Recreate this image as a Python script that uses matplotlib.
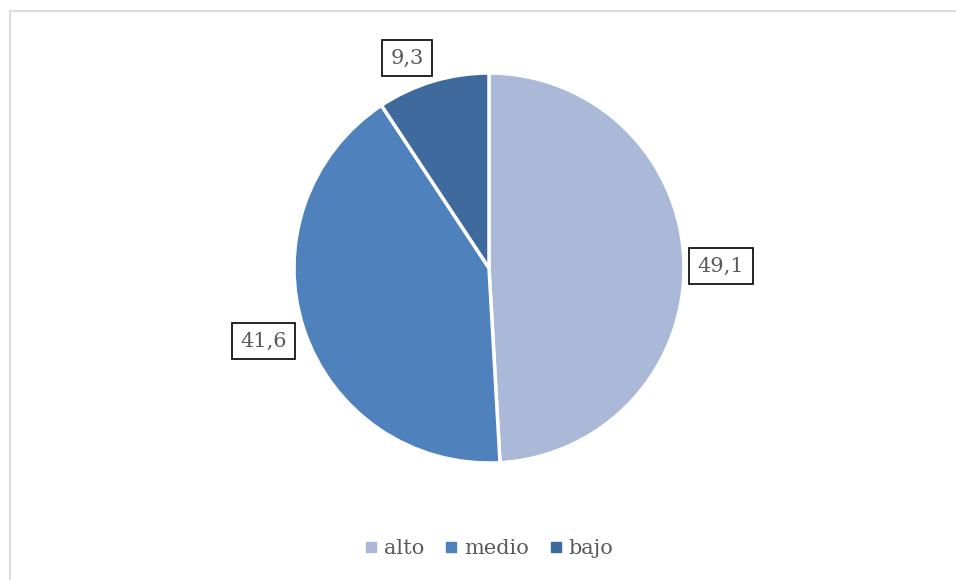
import numpy as np
import matplotlib
matplotlib.use('Agg')
import matplotlib.pyplot as plt
from matplotlib.lines import Line2D

categories = ["alto", "medio", "bajo"]
values = [49.1, 41.6, 9.3]
value_labels = ["49,1", "41,6", "9,3"]
colors = ["#AAB9D7", "#4F81BD", "#3F6A9E"]
text_color = "#595959"

# small nudges (points) for the value boxes
label_nudge = [(0, -3.5), (-4, 0), (-11, -9)]

W, H = 956, 580
fig = plt.figure(figsize=(W / 100, H / 100), dpi=100)
plt.rcParams['font.family'] = ['DejaVu Serif']

# pie centre and radius in pixels
cx, cy, r = 489, 268, 195
lim = 1.35
aw, ah = 2 * lim * r / W, 2 * lim * r / H
ax = fig.add_axes([cx / W - aw / 2, 1 - cy / H - ah / 2, aw, ah])

wedges, _ = ax.pie(values, colors=colors, startangle=90, counterclock=False,
                   wedgeprops=dict(edgecolor='white', linewidth=2.5))
ax.set_xlim(-lim, lim)
ax.set_ylim(-lim, lim)
ax.set_aspect('equal')
ax.axis('off')

for w, lab, nudge in zip(wedges, value_labels, label_nudge):
    mid = np.deg2rad((w.theta1 + w.theta2) / 2)
    d = 1.19
    ax.annotate(lab, (d * np.cos(mid), d * np.sin(mid)), xytext=nudge,
                textcoords='offset points', ha='center', va='center',
                fontsize=15, color=text_color,
                bbox=dict(boxstyle='square,pad=0.4', fc='white', ec='black', lw=1.2))

handles = [Line2D([], [], marker='s', ls='none', markersize=6.5, color=c) for c in colors]
fig.legend(handles, categories, loc='center', bbox_to_anchor=(cx / W, 1 - 549 / H),
           ncol=3, frameon=False, fontsize=15, handlelength=0.6, handletextpad=0.3,
           columnspacing=1.0, labelcolor=text_color)

# outer chart border (left and top edges)
fig.add_artist(Line2D([9.5 / W, 9.5 / W], [0, 1 - 10.5 / H], color='#D9D9D9', lw=1.3))
fig.add_artist(Line2D([9.5 / W, 1], [1 - 10.5 / H, 1 - 10.5 / H], color='#D9D9D9', lw=1.3))

fig.savefig('out.png', dpi=100, facecolor='white')
